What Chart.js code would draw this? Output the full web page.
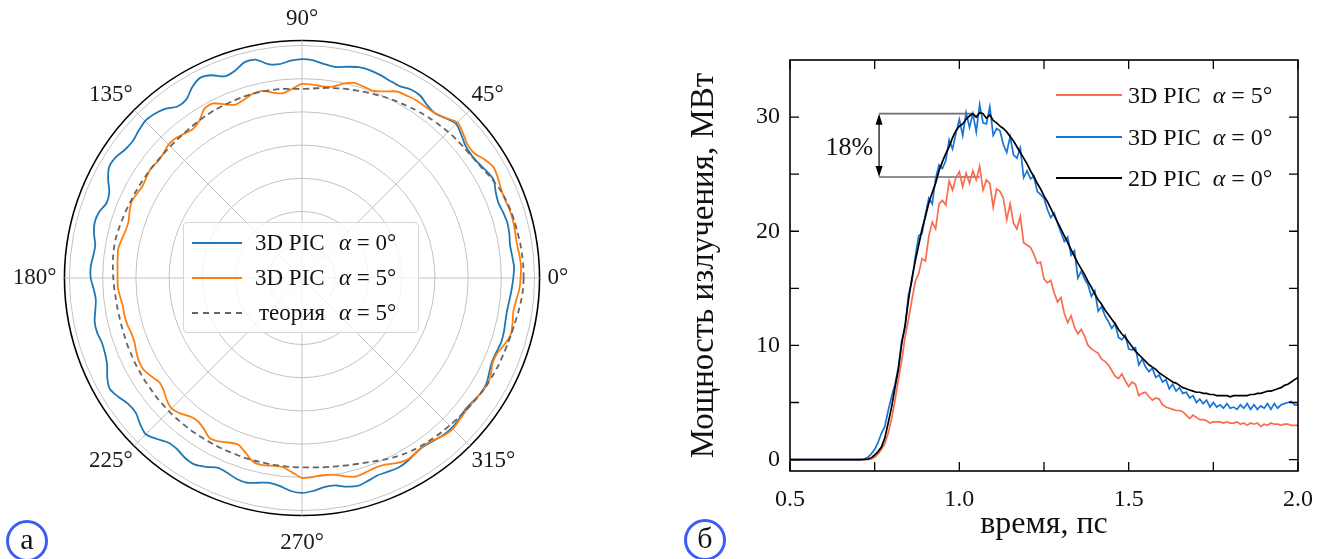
<!DOCTYPE html>
<html lang="ru">
<head>
<meta charset="utf-8">
<title>Диаграмма направленности и мощность излучения</title>
<script src="https://cdn.jsdelivr.net/npm/chart.js@4.4.1/dist/chart.umd.min.js"></script>
<style>
    html, body { margin: 0; padding: 0; background: #fff; }
    body { width: 1328px; height: 559px; position: relative; overflow: hidden;
           font-family: 'Liberation Serif', 'Times New Roman', serif; color: #111; }
    canvas { position: absolute; }
    #polarChart { left: -38px; top: 4px; }
    #powerChart { left: 680px; top: 0; }
    .legend { position: absolute; font-size: 23px; line-height: 1; }
    .polar-legend { left: 183px; top: 222px; width: 234px; height: 109px;
                    border: 1px solid #d6d6d6; border-radius: 4px; background: rgba(255,255,255,0.8); }
    .row { position: absolute; left: 0; height: 30px; width: 100%; }
    .swatch { position: absolute; top: 14px; height: 0; }
    .name { position: absolute; top: 3px; white-space: nowrap; }
    .panel-tag { position: absolute; width: 36px; height: 36px; border: 3px solid #3d5df5;
                 border-radius: 50%; font-size: 30px; text-align: center; line-height: 32px; }
</style>
</head>
<body>
<canvas id="polarChart" width="680" height="556"></canvas>
<canvas id="powerChart" width="648" height="559"></canvas>

<div class="legend polar-legend">
    <div class="row" style="top:5px">
        <div class="swatch" style="left:8px;width:50px;border-top:2px solid #1f77b4"></div>
        <div class="name" style="left:71px">3D PIC</div>
        <div class="name" style="left:155px"><i>α</i> = 0°</div>
    </div>
    <div class="row" style="top:40px">
        <div class="swatch" style="left:8px;width:50px;border-top:2px solid #ff7f0e"></div>
        <div class="name" style="left:71px">3D PIC</div>
        <div class="name" style="left:155px"><i>α</i> = 5°</div>
    </div>
    <div class="row" style="top:75px">
        <div class="swatch" style="left:8px;width:50px;border-top:2px dashed #666"></div>
        <div class="name" style="left:75px">теория</div>
        <div class="name" style="left:155px"><i>α</i> = 5°</div>
    </div>
</div>

<div class="legend" style="left:1056px;top:80px;font-size:24px">
    <div class="row" style="top:0;width:260px">
        <div class="swatch" style="left:0;width:66px;border-top:2px solid #f96d4d"></div>
        <div class="name" style="left:72px">3D PIC&nbsp;&nbsp;<i>α</i> = 5°</div>
    </div>
    <div class="row" style="top:42px;width:260px">
        <div class="swatch" style="left:0;width:66px;border-top:2px solid #1874d6"></div>
        <div class="name" style="left:72px">3D PIC&nbsp;&nbsp;<i>α</i> = 0°</div>
    </div>
    <div class="row" style="top:83px;width:260px">
        <div class="swatch" style="left:0;width:66px;border-top:2px solid #000"></div>
        <div class="name" style="left:72px">2D PIC&nbsp;&nbsp;<i>α</i> = 0°</div>
    </div>
</div>

<div class="panel-tag" style="left:6px;top:520px">а</div>
<div class="panel-tag" style="left:684px;top:519px">б</div>

<script>
// --- (а) polar pattern, radius in grid-ring units, angles 0..357 step 3 ---
const polarAngles = Array.from({ length: 120 }, (_, i) => i * 3);
const spokeAngles = [0, 45, 90, 135, 180, 225, 270, 315];
const ringLevels = [0, 1, 2, 3, 4, 5, 6, 7, 7.15];

const pic3dAlpha0 = [
    6.36, 6.39, 6.36, 6.34, 6.38, 6.40, 6.37, 6.33, 6.38, 6.48,
    6.42, 6.34, 6.30, 6.33, 6.45, 6.56, 6.47, 6.37, 6.42, 6.54,
    6.55, 6.48, 6.50, 6.55, 6.58, 6.57, 6.50, 6.43, 6.47, 6.56,
    6.59, 6.55, 6.47, 6.52, 6.72, 6.72, 6.55, 6.50, 6.68, 6.76,
    6.62, 6.40, 6.38, 6.55, 6.64, 6.68, 6.62, 6.55, 6.58, 6.68,
    6.70, 6.55, 6.35, 6.30, 6.42, 6.46, 6.40, 6.30, 6.32, 6.37,
    6.36, 6.28, 6.24, 6.30, 6.38, 6.38, 6.33, 6.35, 6.42, 6.58,
    6.68, 6.58, 6.46, 6.44, 6.56, 6.65, 6.52, 6.38, 6.38, 6.46,
    6.48, 6.38, 6.25, 6.28, 6.36, 6.38, 6.30, 6.24, 6.30, 6.42,
    6.47, 6.42, 6.33, 6.32, 6.42, 6.48, 6.42, 6.36, 6.38, 6.40,
    6.36, 6.28, 6.25, 6.30, 6.36, 6.38, 6.35, 6.31, 6.34, 6.40,
    6.40, 6.32, 6.25, 6.26, 6.30, 6.29, 6.26, 6.25, 6.28, 6.32
];
const pic3dAlpha5 = [
    6.58, 6.60, 6.58, 6.55, 6.56, 6.58, 6.58, 6.55, 6.56, 6.62,
    6.66, 6.55, 6.40, 6.40, 6.52, 6.62, 6.48, 6.38, 6.35, 6.36,
    6.33, 6.30, 6.15, 6.03, 6.05, 6.08, 5.98, 5.83, 5.80, 5.83,
    5.84, 5.70, 5.59, 5.65, 5.76, 5.74, 5.64, 5.59, 5.72, 5.90,
    5.88, 5.66, 5.56, 5.60, 5.67, 5.68, 5.61, 5.58, 5.62, 5.58,
    5.54, 5.58, 5.62, 5.56, 5.49, 5.50, 5.55, 5.60, 5.58, 5.56,
    5.55, 5.55, 5.50, 5.46, 5.46, 5.44, 5.40, 5.40, 5.46, 5.51,
    5.51, 5.42, 5.32, 5.36, 5.48, 5.55, 5.48, 5.36, 5.33, 5.42,
    5.56, 5.52, 5.42, 5.37, 5.52, 5.72, 5.76, 5.72, 5.72, 5.85,
    6.02, 6.00, 5.97, 5.99, 6.10, 6.19, 6.16, 6.12, 6.15, 6.25,
    6.32, 6.28, 6.23, 6.28, 6.38, 6.42, 6.38, 6.35, 6.36, 6.40,
    6.43, 6.38, 6.28, 6.30, 6.42, 6.51, 6.48, 6.44, 6.48, 6.55
];
const theoryAlpha5 = [
    6.67, 6.67, 6.66, 6.65, 6.63, 6.62, 6.60, 6.57, 6.53, 6.46,
    6.38, 6.32, 6.28, 6.26, 6.24, 6.22, 6.19, 6.16, 6.13, 6.09,
    6.05, 6.02, 5.98, 5.94, 5.90, 5.86, 5.83, 5.79, 5.75, 5.71,
    5.69, 5.70, 5.72, 5.73, 5.74, 5.74, 5.73, 5.72, 5.71, 5.70,
    5.68, 5.66, 5.64, 5.62, 5.61, 5.60, 5.60, 5.60, 5.61, 5.62,
    5.63, 5.64, 5.65, 5.67, 5.69, 5.71, 5.73, 5.73, 5.72, 5.70,
    5.68, 5.66, 5.64, 5.63, 5.62, 5.62, 5.62, 5.63, 5.63, 5.64,
    5.64, 5.65, 5.65, 5.66, 5.66, 5.67, 5.67, 5.67, 5.67, 5.67,
    5.67, 5.67, 5.67, 5.67, 5.68, 5.68, 5.68, 5.69, 5.69, 5.70,
    5.70, 5.71, 5.73, 5.75, 5.78, 5.82, 5.86, 5.92, 5.99, 6.06,
    6.12, 6.17, 6.20, 6.23, 6.26, 6.28, 6.31, 6.34, 6.37, 6.40,
    6.43, 6.45, 6.47, 6.48, 6.50, 6.52, 6.55, 6.59, 6.63, 6.66
];

// --- (б) radiated power, МВт, time 0.50..2.00 ps step 0.01 ---
const time = Array.from({ length: 151 }, (_, i) => +(0.5 + i * 0.01).toFixed(2));
const timeTicks = [0.5, 0.75, 1.0, 1.25, 1.5, 1.75, 2.0];
const powerTicks = [0, 5, 10, 15, 20, 25, 30];

const power3dAlpha5 = [
    0, 0, 0, 0, 0, 0, 0, 0, 0, 0,
    0, 0, 0, 0, 0, 0, 0, 0, 0, 0,
    0, 0, 0, 0, 0.05, 0.2, 0.5, 0.9, 1.4, 2.3,
    3.6, 5.2, 7.0, 8.7, 10.8, 12.3, 14.0, 15.6, 16.3, 17.6,
    17.4, 19.6, 20.8, 20.2, 22.4, 22.7, 22.3, 24.4, 23.6, 24.7,
    25.2, 23.9, 25.1, 24.2, 25.3, 24.5, 25.7, 23.6, 24.5, 24.2,
    22.1, 23.7, 23.5, 22.9, 21.0, 22.4, 20.7, 20.2, 21.3, 19.0,
    18.8, 18.6, 18.0, 17.2, 17.3, 15.8, 15.5, 15.7, 14.6, 13.8,
    14.2, 12.8, 12.0, 12.6, 11.6, 11.0, 11.4, 10.8, 10.0, 9.7,
    9.5, 9.3, 8.8, 8.6, 8.3, 7.8, 7.3, 7.1, 7.5, 6.9,
    6.4, 6.8, 6.6, 5.6, 5.8, 5.9, 5.5, 5.2, 5.4, 5.3,
    4.8, 4.6, 4.5, 4.4, 4.3, 4.3, 4.2, 3.9, 3.6, 3.9,
    3.7, 3.5, 3.5, 3.4, 3.2, 3.3, 3.3, 3.3, 3.2, 3.3,
    3.2, 3.2, 3.3, 3.1, 3.2, 3.0, 3.2, 3.1, 3.2, 2.9,
    3.1, 3.0, 3.2, 3.1, 3.1, 3.0, 3.1, 3.1, 3.0, 3.0,
    3.0
];
const power3dAlpha0 = [
    0, 0, 0, 0, 0, 0, 0, 0, 0, 0,
    0, 0, 0, 0, 0, 0, 0, 0, 0, 0,
    0, 0.02, 0.05, 0.2, 0.5, 0.9, 1.5, 2.3, 2.9, 4.3,
    5.5, 6.6, 8.1, 10.4, 11.6, 14.5, 15.6, 17.8, 19.6, 19.8,
    21.5, 22.9, 22.4, 24.6, 25.8, 25.5, 26.2, 28.0, 27.2, 28.6,
    29.8, 28.4, 30.4, 29.1, 30.3, 28.7, 31.1, 29.5, 29.4, 30.9,
    28.4, 29.0, 28.8, 27.6, 26.9, 28.3, 26.7, 26.4, 27.3, 24.7,
    25.3, 24.6, 24.8, 23.5, 23.2, 22.9, 21.9, 21.2, 21.6, 20.7,
    19.9, 19.1, 19.5, 17.9, 18.3, 15.9, 16.5, 15.8, 15.3, 14.3,
    14.8, 13.0, 13.4, 12.6, 12.1, 11.5, 11.9, 10.7, 10.5, 10.9,
    9.7, 9.6, 9.8, 8.3, 8.8, 8.1, 7.7, 8.0, 7.2, 7.4,
    6.8, 7.0, 6.2, 6.6, 6.0, 6.3, 5.8, 5.9, 5.4, 5.6,
    5.0, 5.3, 4.9, 5.2, 4.6, 5.0, 4.6, 4.8, 4.5, 4.9,
    4.5, 4.6, 4.4, 4.8, 4.5, 4.9, 4.4, 4.8, 4.4, 4.7,
    4.5, 4.9, 4.4, 4.9, 4.5, 4.8, 4.9, 5.0, 5.1, 4.8,
    4.8
];
const power2dAlpha0 = [
    0, 0, 0, 0, 0, 0, 0, 0, 0, 0,
    0, 0, 0, 0, 0, 0, 0, 0, 0, 0,
    0, 0, 0.02, 0.05, 0.15, 0.4, 0.7, 1.1, 1.9, 3.2,
    4.6, 6.3, 7.9, 10.2, 11.8, 14.0, 15.9, 17.4, 18.8, 20.2,
    21.3, 22.5, 23.4, 24.2, 25.3, 26.1, 26.8, 27.4, 28.2, 28.8,
    29.2, 29.4, 29.8, 30.1, 30.3, 30.0, 30.4, 30.3, 29.9, 30.2,
    29.7, 29.5, 29.2, 29.0, 28.7, 28.3, 27.9, 27.4, 26.9, 26.4,
    25.9, 25.3, 24.8, 24.2, 23.7, 23.1, 22.6, 22.0, 21.4, 20.8,
    20.2, 19.6, 19.0, 18.4, 17.8, 17.2, 16.7, 16.2, 15.6, 15.1,
    14.5, 14.0, 13.6, 13.1, 12.7, 12.3, 11.9, 11.4, 11.0, 10.7,
    10.3, 9.9, 9.5, 9.2, 8.9, 8.6, 8.3, 8.1, 7.9, 7.6,
    7.4, 7.2, 7.0, 6.8, 6.7, 6.5, 6.3, 6.2, 6.1, 6.0,
    5.9, 5.9, 5.8, 5.8, 5.7, 5.7, 5.6, 5.6, 5.6, 5.6,
    5.5, 5.6, 5.6, 5.6, 5.6, 5.6, 5.7, 5.7, 5.8, 5.8,
    5.9, 6.0, 6.0, 6.1, 6.2, 6.3, 6.5, 6.6, 6.8, 7.0,
    7.2
];

// 18% gap marker: levels of the two peaks and where the guide lines end
const gapLevels = [30.3, 24.75];
const gapLineEnds = [1.04, 1.06];
const gapStart = 0.763;
const gapText = '18%';

const serif = "'Liberation Serif', 'Times New Roman', serif";

document.addEventListener('DOMContentLoaded', () => {
    // radar goes clockwise from startAngle, so walk the angles backwards
    const n = polarAngles.length;
    const order = polarAngles.map((_, i) => (n - i) % n);
    const pick = arr => order.map(j => arr[j]);

    // label gap: diagonals sit closer, the bottom one a bit lower
    const labelPadding = c => {
        const a = polarAngles[order[c.index]];
        if (a === 270) return 14;
        return a % 90 === 0 ? 8 : 2;
    };

    new Chart(document.getElementById('polarChart'), {
        type: 'radar',
        data: {
            labels: pick(polarAngles),
            datasets: [
                { label: '3D PIC α = 0°', data: pick(pic3dAlpha0), borderColor: '#1f77b4', borderWidth: 1.8, order: 3 },
                { label: '3D PIC α = 5°', data: pick(pic3dAlpha5), borderColor: '#ff7f0e', borderWidth: 1.8, order: 2 },
                { label: 'теория α = 5°', data: pick(theoryAlpha5), borderColor: '#666666', borderWidth: 1.8, borderDash: [6, 4], order: 1 }
            ]
        },
        options: {
            responsive: false,
            animation: false,
            events: [],
            plugins: { legend: { display: false }, tooltip: { enabled: false } },
            elements: {
                point: { radius: 0 },
                line: { tension: 0.25, fill: false, backgroundColor: 'transparent' }
            },
            scales: {
                r: {
                    min: 0,
                    max: 7.15,
                    startAngle: 90,
                    afterBuildTicks: scale => { scale.ticks = ringLevels.map(v => ({ value: v })); },
                    ticks: { display: false },
                    grid: {
                        circular: true,
                        color: c => (c.index === ringLevels.length - 1 ? '#000' : '#bcbcbc'),
                        lineWidth: c => (c.index === ringLevels.length - 1 ? 1.6 : 0.9)
                    },
                    angleLines: {
                        color: '#bcbcbc',
                        lineWidth: c => (spokeAngles.includes(polarAngles[order[c.index]]) ? 0.9 : 0)
                    },
                    pointLabels: {
                        display: true,
                        padding: labelPadding,
                        color: '#1a1a1a',
                        font: { family: serif, size: 23, lineHeight: 1.15 },
                        callback: a => (spokeAngles.includes(a) ? a + '°' : '')
                    }
                }
            }
        }
    });

    // frame with inward ticks on all four sides + the 18% marker
    const frameTicks = {
        id: 'frameTicks',
        beforeDatasetsDraw(chart) {
            const { ctx, scales: { x, y } } = chart;
            const x0 = x.getPixelForValue(gapStart);
            const yTop = y.getPixelForValue(gapLevels[0]);
            const yBot = y.getPixelForValue(gapLevels[1]);
            ctx.save();
            ctx.strokeStyle = '#6e6e6e';
            ctx.lineWidth = 1.6;
            ctx.beginPath();
            ctx.moveTo(x0, yTop); ctx.lineTo(x.getPixelForValue(gapLineEnds[0]), yTop);
            ctx.moveTo(x0, yBot); ctx.lineTo(x.getPixelForValue(gapLineEnds[1]), yBot);
            ctx.stroke();
            ctx.strokeStyle = '#000';
            ctx.fillStyle = '#000';
            ctx.lineWidth = 1.2;
            ctx.beginPath();
            ctx.moveTo(x0, yTop + 8); ctx.lineTo(x0, yBot - 8);
            ctx.stroke();
            ctx.beginPath();
            ctx.moveTo(x0, yTop); ctx.lineTo(x0 - 3.5, yTop + 11); ctx.lineTo(x0 + 3.5, yTop + 11); ctx.closePath();
            ctx.moveTo(x0, yBot); ctx.lineTo(x0 - 3.5, yBot - 11); ctx.lineTo(x0 + 3.5, yBot - 11); ctx.closePath();
            ctx.fill();
            ctx.font = '26px ' + serif;
            ctx.textAlign = 'right';
            ctx.textBaseline = 'middle';
            ctx.fillStyle = '#111';
            ctx.fillText(gapText, x0 - 6, (yTop + yBot) / 2 + 3);
            ctx.restore();
        },
        afterDraw(chart) {
            const { ctx, chartArea: a, scales: { x, y } } = chart;
            ctx.save();
            ctx.strokeStyle = '#000';
            ctx.lineWidth = 1.6;
            ctx.strokeRect(a.left, a.top, a.right - a.left, a.bottom - a.top);
            ctx.lineWidth = 1.3;
            ctx.beginPath();
            x.ticks.forEach(t => {
                const px = x.getPixelForValue(t.value);
                ctx.moveTo(px, a.bottom); ctx.lineTo(px, a.bottom - 9);
                ctx.moveTo(px, a.top); ctx.lineTo(px, a.top + 9);
            });
            y.ticks.forEach(t => {
                const py = y.getPixelForValue(t.value);
                ctx.moveTo(a.left, py); ctx.lineTo(a.left + 9, py);
                ctx.moveTo(a.right, py); ctx.lineTo(a.right - 9, py);
            });
            ctx.stroke();
            ctx.restore();
        }
    };

    const series = arr => time.map((t, i) => ({ x: t, y: arr[i] }));

    new Chart(document.getElementById('powerChart'), {
        type: 'line',
        data: {
            datasets: [
                { label: '3D PIC α = 5°', data: series(power3dAlpha5), borderColor: '#f96d4d', borderWidth: 1.7, order: 3 },
                { label: '3D PIC α = 0°', data: series(power3dAlpha0), borderColor: '#1874d6', borderWidth: 1.7, order: 2 },
                { label: '2D PIC α = 0°', data: series(power2dAlpha0), borderColor: '#000000', borderWidth: 1.7, order: 1 }
            ]
        },
        plugins: [frameTicks],
        options: {
            responsive: false,
            animation: false,
            events: [],
            layout: { padding: { left: 0, right: 30, top: 60, bottom: 0 } },
            plugins: { legend: { display: false }, tooltip: { enabled: false } },
            elements: { point: { radius: 0 }, line: { tension: 0, fill: false } },
            scales: {
                x: {
                    type: 'linear',
                    min: 0.5,
                    max: 2.0,
                    afterBuildTicks: scale => { scale.ticks = timeTicks.map(v => ({ value: v })); },
                    afterFit: scale => { scale.height = 88; },
                    grid: { display: false, drawTicks: false },
                    border: { display: false },
                    ticks: {
                        autoSkip: false,
                        maxRotation: 0,
                        padding: 14,
                        color: '#111',
                        font: { family: serif, size: 24 },
                        callback: v => (Math.abs(v * 2 - Math.round(v * 2)) < 1e-6 ? v.toFixed(1) : '')
                    },
                    title: {
                        display: true,
                        text: 'время, пс',
                        color: '#111',
                        font: { family: serif, size: 32 },
                        padding: { top: 0, bottom: 15 }
                    }
                },
                y: {
                    min: -1,
                    max: 35,
                    afterBuildTicks: scale => { scale.ticks = powerTicks.map(v => ({ value: v })); },
                    afterFit: scale => { scale.width = 110; },
                    grid: { display: false, drawTicks: false },
                    border: { display: false },
                    ticks: {
                        autoSkip: false,
                        padding: 10,
                        color: '#111',
                        font: { family: serif, size: 24 },
                        callback: v => (v % 10 === 0 ? String(v) : '')
                    },
                    title: {
                        display: true,
                        text: 'Мощность излучения, МВт',
                        color: '#111',
                        font: { family: serif, size: 33 },
                        padding: { top: 5, bottom: 0 }
                    }
                }
            }
        }
    });
});
</script>
</body>
</html>
